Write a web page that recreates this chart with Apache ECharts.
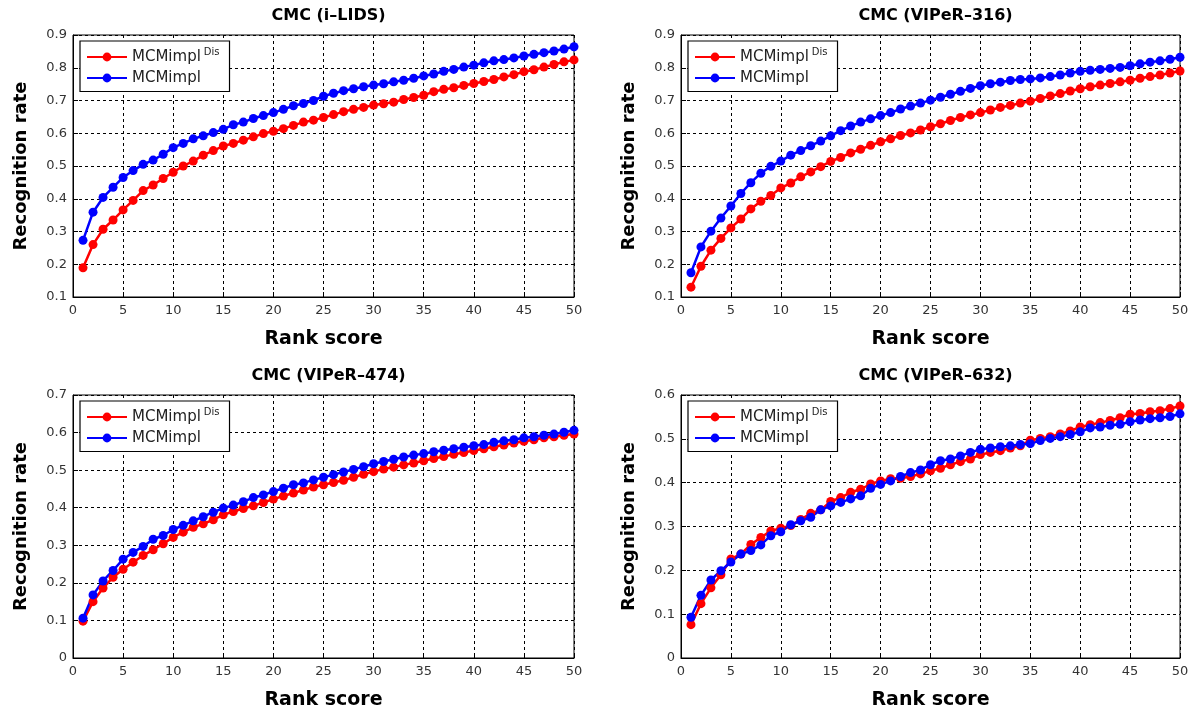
<!DOCTYPE html>
<html>
<head>
<meta charset="utf-8">
<script src="https://cdn.jsdelivr.net/npm/echarts@6/dist/echarts.min.js"></script>
<style>
html, body { margin: 0; padding: 0; background: #fff; }
#main { width: 1194px; height: 711px; }
</style>
</head>
<body>
<div id="main"></div>
<script>
// rank axis
const ranks = [1, 2, 3, 4, 5, 6, 7, 8, 9, 10, 11, 12, 13, 14, 15, 16, 17, 18, 19, 20,
    21, 22, 23, 24, 25, 26, 27, 28, 29, 30, 31, 32, 33, 34, 35, 36, 37, 38, 39, 40,
    41, 42, 43, 44, 45, 46, 47, 48, 49, 50]

// i-LIDS
const ilidsDis = [0.189, 0.260, 0.307, 0.335, 0.366, 0.395, 0.425, 0.442, 0.462, 0.481,
    0.500, 0.515, 0.533, 0.547, 0.561, 0.569, 0.579, 0.589, 0.599, 0.606,
    0.614, 0.624, 0.634, 0.640, 0.648, 0.657, 0.666, 0.673, 0.679, 0.686,
    0.690, 0.695, 0.703, 0.709, 0.716, 0.727, 0.734, 0.739, 0.746, 0.752,
    0.758, 0.764, 0.772, 0.779, 0.788, 0.794, 0.802, 0.810, 0.818, 0.824]
const ilidsBase = [0.273, 0.359, 0.404, 0.435, 0.465, 0.486, 0.505, 0.518, 0.536, 0.556,
    0.569, 0.583, 0.592, 0.602, 0.612, 0.626, 0.634, 0.645, 0.654, 0.663,
    0.673, 0.684, 0.691, 0.700, 0.713, 0.722, 0.730, 0.736, 0.742, 0.747,
    0.751, 0.757, 0.762, 0.768, 0.775, 0.781, 0.789, 0.795, 0.802, 0.808,
    0.815, 0.821, 0.825, 0.830, 0.836, 0.841, 0.846, 0.851, 0.857, 0.864]

// VIPeR-316
const v316Dis = [0.130, 0.194, 0.243, 0.279, 0.311, 0.338, 0.369, 0.392, 0.410, 0.433,
    0.448, 0.467, 0.482, 0.498, 0.514, 0.526, 0.540, 0.551, 0.563, 0.574,
    0.583, 0.593, 0.601, 0.610, 0.620, 0.629, 0.639, 0.648, 0.656, 0.663,
    0.671, 0.679, 0.685, 0.692, 0.698, 0.706, 0.714, 0.721, 0.729, 0.736,
    0.742, 0.747, 0.752, 0.757, 0.762, 0.768, 0.773, 0.778, 0.784, 0.790]
const v316Base = [0.174, 0.253, 0.301, 0.341, 0.378, 0.416, 0.449, 0.478, 0.499, 0.515,
    0.533, 0.547, 0.562, 0.576, 0.592, 0.608, 0.622, 0.634, 0.644, 0.654,
    0.663, 0.674, 0.683, 0.692, 0.701, 0.710, 0.719, 0.728, 0.737, 0.745,
    0.751, 0.756, 0.761, 0.764, 0.766, 0.769, 0.773, 0.778, 0.784, 0.789,
    0.792, 0.795, 0.798, 0.801, 0.806, 0.812, 0.817, 0.821, 0.826, 0.832]

// VIPeR-474
const v474Dis = [0.098, 0.150, 0.186, 0.215, 0.236, 0.255, 0.273, 0.288, 0.304, 0.321,
    0.335, 0.348, 0.357, 0.368, 0.381, 0.390, 0.398, 0.405, 0.414, 0.423,
    0.431, 0.439, 0.447, 0.455, 0.461, 0.467, 0.473, 0.481, 0.489, 0.496,
    0.503, 0.508, 0.514, 0.519, 0.525, 0.531, 0.536, 0.542, 0.547, 0.552,
    0.557, 0.562, 0.567, 0.572, 0.577, 0.581, 0.586, 0.589, 0.593, 0.596]
const v474Base = [0.106, 0.168, 0.205, 0.233, 0.263, 0.281, 0.297, 0.316, 0.326, 0.342,
    0.353, 0.365, 0.376, 0.388, 0.399, 0.407, 0.416, 0.427, 0.434, 0.443,
    0.452, 0.461, 0.466, 0.474, 0.481, 0.488, 0.495, 0.502, 0.509, 0.517,
    0.523, 0.529, 0.535, 0.540, 0.544, 0.549, 0.553, 0.557, 0.561, 0.565,
    0.568, 0.574, 0.578, 0.581, 0.586, 0.589, 0.593, 0.596, 0.601, 0.606]

// VIPeR-632
const v632Dis = [0.076, 0.124, 0.160, 0.190, 0.226, 0.237, 0.259, 0.275, 0.290, 0.296,
    0.302, 0.316, 0.330, 0.338, 0.357, 0.366, 0.378, 0.385, 0.397, 0.404,
    0.409, 0.410, 0.414, 0.420, 0.427, 0.433, 0.441, 0.448, 0.454, 0.464,
    0.469, 0.473, 0.479, 0.484, 0.497, 0.501, 0.505, 0.511, 0.518, 0.527,
    0.532, 0.537, 0.542, 0.548, 0.556, 0.558, 0.562, 0.564, 0.569, 0.575]
const v632Base = [0.093, 0.143, 0.178, 0.199, 0.219, 0.237, 0.245, 0.258, 0.279, 0.288,
    0.304, 0.313, 0.321, 0.338, 0.347, 0.355, 0.363, 0.370, 0.387, 0.396,
    0.404, 0.414, 0.423, 0.429, 0.441, 0.450, 0.454, 0.461, 0.469, 0.476,
    0.479, 0.482, 0.484, 0.487, 0.489, 0.496, 0.501, 0.505, 0.510, 0.516,
    0.525, 0.527, 0.531, 0.533, 0.539, 0.543, 0.546, 0.548, 0.551, 0.557]

const disName = 'MCMimpl^Dis'
const baseName = 'MCMimpl'

const panels = [
    { title: 'CMC (i\u2013LIDS)', dis: ilidsDis, base: ilidsBase, min: 0.1, max: 0.9, left: 73, top: 35, width: 501, height: 262 },
    { title: 'CMC (VIPeR\u2013316)', dis: v316Dis, base: v316Base, min: 0.1, max: 0.9, left: 681, top: 35, width: 499, height: 262 },
    { title: 'CMC (VIPeR\u2013474)', dis: v474Dis, base: v474Base, min: 0, max: 0.7, left: 73, top: 395, width: 501, height: 263 },
    { title: 'CMC (VIPeR\u2013632)', dis: v632Dis, base: v632Base, min: 0, max: 0.6, left: 681, top: 395, width: 499, height: 263 }
]

const font = 'DejaVu Sans'
const pair = (ys) => ranks.map((r, i) => [r, ys[i]])

let option = {
    animation: false,
    backgroundColor: '#fff',
    textStyle: { fontFamily: font },
    title: [],
    grid: [],
    xAxis: [],
    yAxis: [],
    legend: [],
    series: []
}

panels.forEach((p, i) => {
    option.title.push({
        text: p.title,
        left: p.left + p.width / 2,
        top: p.top - 32,
        textAlign: 'center',
        textStyle: { fontFamily: font, fontSize: 16, fontWeight: 'bold', color: '#000' }
    })
    option.grid.push({
        left: p.left, top: p.top, width: p.width, height: p.height,
        show: true, borderColor: '#000', borderWidth: 1, backgroundColor: '#fff'
    })
    option.xAxis.push({
        gridIndex: i,
        type: 'value',
        min: 0, max: 50, interval: 5,
        name: 'Rank score',
        nameLocation: 'middle',
        nameGap: 33,
        nameTextStyle: { fontFamily: font, fontSize: 19, fontWeight: 'bold', color: '#000' },
        axisLine: { show: true, lineStyle: { color: '#000', width: 1 } },
        axisTick: { show: true, inside: true, length: 5, lineStyle: { color: '#000' } },
        axisLabel: { color: '#333', fontSize: 13, margin: 7 },
        splitLine: { show: true, lineStyle: { color: '#000', type: [3, 3], width: 1 } }
    })
    option.yAxis.push({
        gridIndex: i,
        type: 'value',
        min: p.min, max: p.max, interval: 0.1,
        name: 'Recognition rate',
        nameLocation: 'middle',
        nameGap: 43,
        nameTextStyle: { fontFamily: font, fontSize: 18, fontWeight: 'bold', color: '#000' },
        axisLine: { show: true, lineStyle: { color: '#000', width: 1 } },
        axisTick: { show: true, inside: true, length: 5, lineStyle: { color: '#000' } },
        axisLabel: { color: '#333', fontSize: 13, margin: 6, formatter: (v) => String(parseFloat(v.toFixed(2))) },
        splitLine: { show: true, lineStyle: { color: '#000', type: [3, 3], width: 1 } }
    })
    option.legend.push({
        data: [disName, baseName],
        orient: 'vertical',
        left: p.left + 7,
        top: p.top + 6,
        padding: [6, 10, 6, 6],
        itemGap: 6,
        itemWidth: 40,
        itemHeight: 11,
        backgroundColor: '#fff',
        borderColor: '#000',
        borderWidth: 1.2,
        borderRadius: 0,
        selectedMode: false,
        textStyle: {
            fontFamily: font, fontSize: 15, color: '#222',
            rich: {
                m: { fontFamily: font, fontSize: 15, color: '#222' },
                s: { fontFamily: font, fontSize: 10, color: '#222', padding: [0, 0, 10, 3] }
            }
        },
        formatter: (name) => name === disName ? '{m|MCMimpl}{s|Dis}' : '{m|MCMimpl}'
    })
    option.series.push({
        name: disName,
        type: 'line',
        xAxisIndex: i, yAxisIndex: i,
        data: pair(p.dis),
        symbol: 'circle',
        symbolSize: 9,
        color: '#ff0000',
        lineStyle: { width: 2.5, color: '#ff0000' },
        itemStyle: { color: '#ff0000' }
    })
    option.series.push({
        name: baseName,
        type: 'line',
        xAxisIndex: i, yAxisIndex: i,
        data: pair(p.base),
        symbol: 'circle',
        symbolSize: 9,
        color: '#0000ff',
        lineStyle: { width: 2.5, color: '#0000ff' },
        itemStyle: { color: '#0000ff' }
    })
})

let myChart = echarts.init(document.getElementById('main'))
myChart.setOption(option)
</script>
</body>
</html>
